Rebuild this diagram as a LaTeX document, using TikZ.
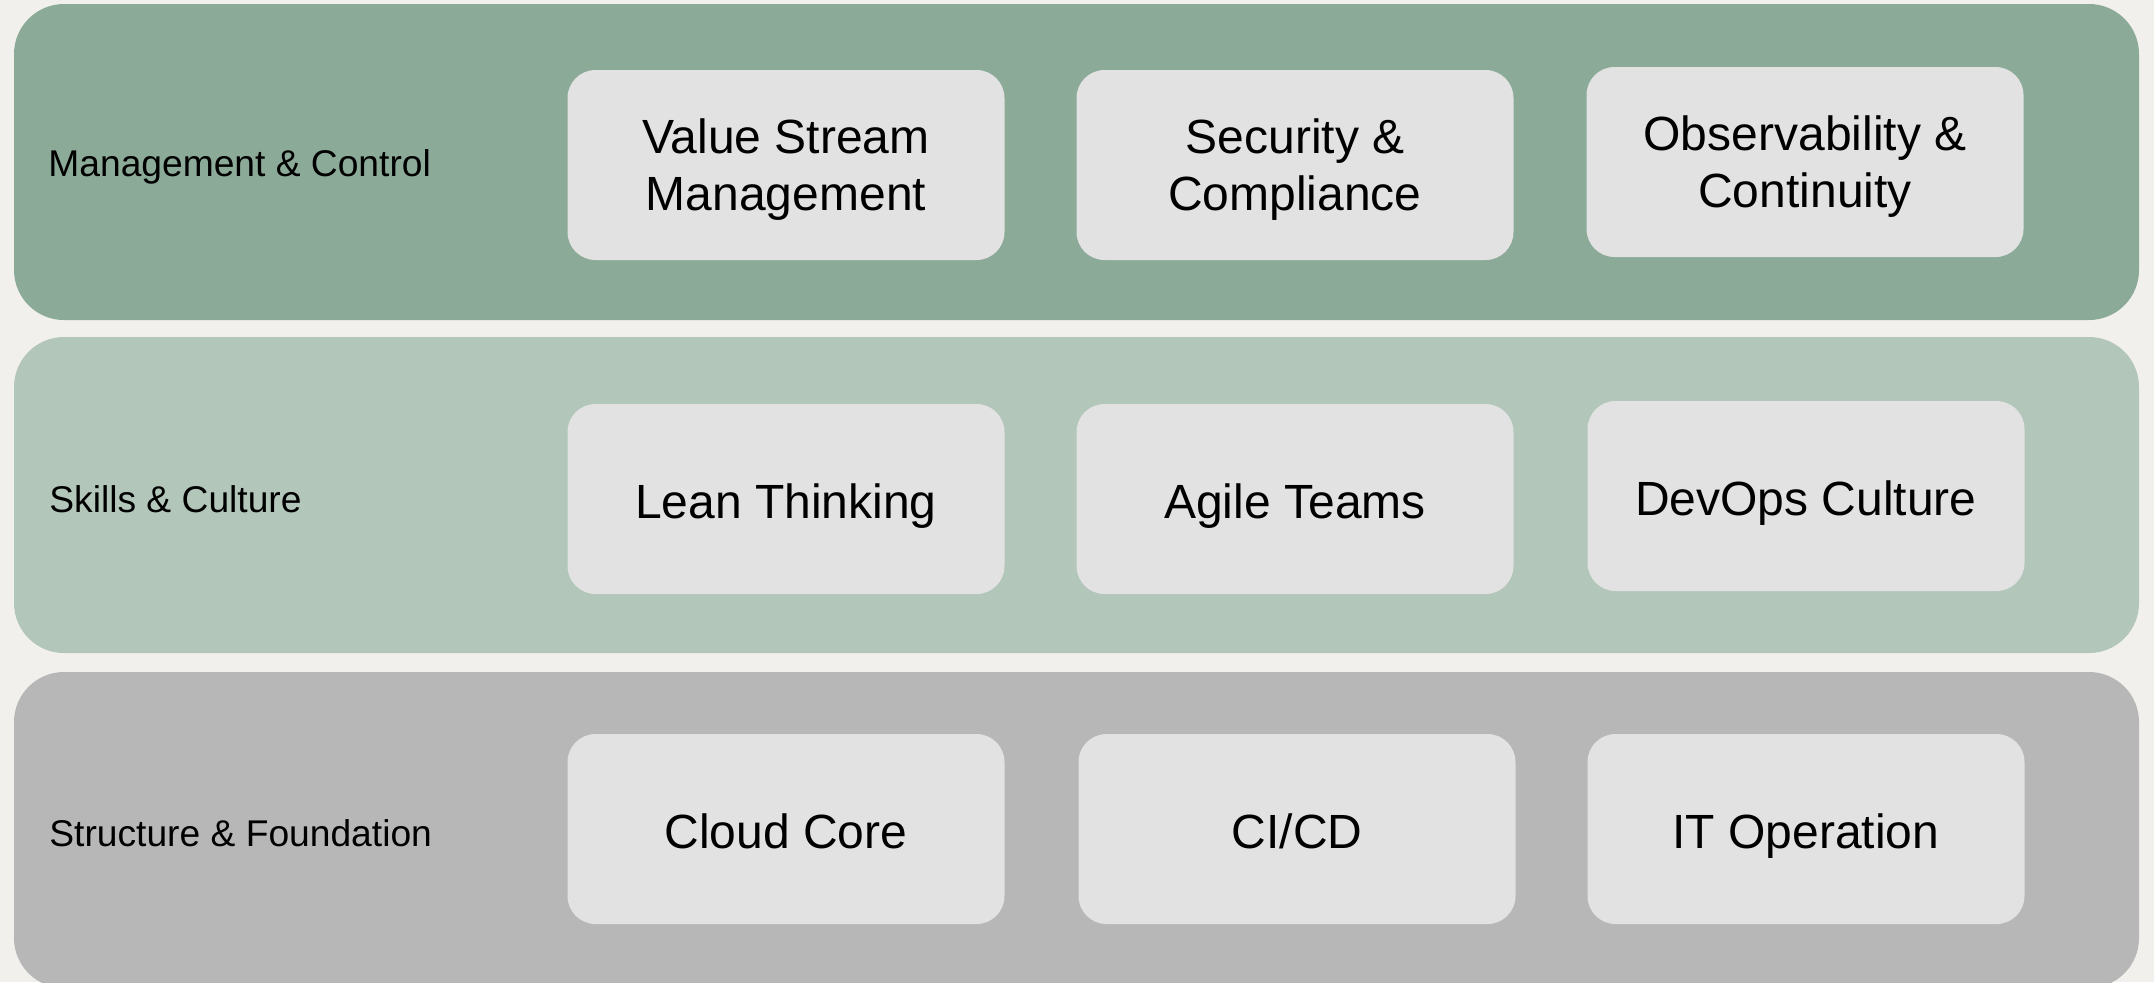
\documentclass[tikz,border=0pt]{standalone}
\usepackage{fontspec}
\setmainfont{Liberation Sans}
\definecolor{bgc}{HTML}{F1F0EC}
\definecolor{bandA}{HTML}{8CAA98}
\definecolor{bandB}{HTML}{B2C6BA}
\definecolor{bandC}{HTML}{B7B7B7}
\definecolor{boxc}{HTML}{E2E2E2}
\tikzset{
  band/.style={draw=none, rounded corners=25pt, minimum width=1062.5pt, minimum height=158pt, inner sep=0pt},
  itembox/.style={draw=none, fill=boxc, rounded corners=14pt, minimum width=218.5pt, minimum height=95pt, inner sep=0pt},
  itemtext/.style={inner sep=0pt, align=center, font=\fontsize{24}{28.5}\selectfont, text=black},
  onetext/.style={itemtext, text height=17.5pt, text depth=5pt, yshift=-3.5pt},
  twotext/.style={itemtext, yshift=-2.5pt},
  bandlabel/.style={anchor=west, inner sep=0pt, font=\fontsize{18.6}{22}\selectfont, text=black, yshift=-1.2pt}
}
\begin{document}
\begin{tikzpicture}[x=0.5pt, y=-0.5pt]
\useasboundingbox (0,0) rectangle (2154,982);
\clip (0,0) rectangle (2154,982);
\fill[bgc] (0,0) rectangle (2154,982);
\node[band, fill=bandA] (b1) at (1076.5,162) {};
\node[band, fill=bandB] (b2) at (1076.5,495) {};
\node[band, fill=bandC] (b3) at (1076.5,830) {};
\node[bandlabel] (l1) at (48,164) {Management \& Control};
\node[bandlabel] (l2) at (49,497) {Skills \& Culture};
\node[bandlabel] (l3) at (49,831) {Structure \& Foundation};
\node[itembox] (a1) at (786,165) {};
\node[itembox] (a2) at (1295,165) {};
\node[itembox] (a3) at (1805,162) {};
\node[itembox] (s1) at (786,499) {};
\node[itembox] (s2) at (1295,499) {};
\node[itembox] (s3) at (1806,496) {};
\node[itembox] (f1) at (786,829) {};
\node[itembox] (f2) at (1297,829) {};
\node[itembox] (f3) at (1806,829) {};
\node[twotext] (a1t) at (a1.center) {Value Stream\\Management};
\node[twotext] (a2t) at (a2.center) {Security \&\\Compliance};
\node[twotext] (a3t) at (a3.center) {Observability \&\\Continuity};
\node[onetext] (s1t) at (s1.center) {Lean Thinking};
\node[onetext] (s2t) at (s2.center) {Agile Teams};
\node[onetext] (s3t) at (s3.center) {DevOps Culture};
\node[onetext] (f1t) at (f1.center) {Cloud Core};
\node[onetext] (f2t) at (f2.center) {CI/CD};
\node[onetext] (f3t) at (f3.center) {IT Operation};
\end{tikzpicture}
\end{document}
